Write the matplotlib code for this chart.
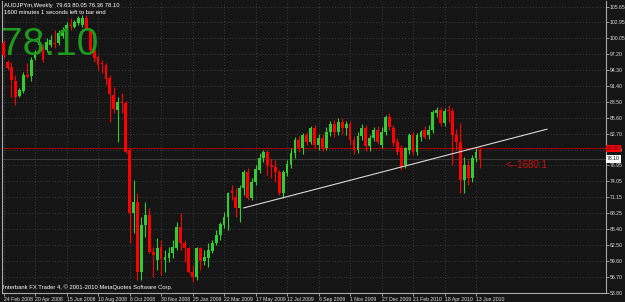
import numpy as np
import matplotlib.pyplot as plt

# weekly AUDJPYm candles, 24 Feb 2008 .. 20 Jun 2010
opens = [99.16, 95.71, 94.80, 92.26, 89.53, 90.44, 93.35, 93.17, 96.44, 98.80,
         98.44, 97.89, 98.80, 99.16, 99.16, 100.44, 101.17, 102.43, 102.07, 102.80,
         102.43, 103.71, 101.53, 97.89, 96.62, 95.53, 95.17, 92.80, 89.71, 86.99,
         88.44, 88.26, 79.72, 68.28, 70.28, 57.55, 66.10, 67.91, 61.19, 59.74,
         62.10, 59.74, 60.10, 61.01, 61.92, 65.73, 62.83, 61.92, 57.55, 56.65,
         61.92, 59.55, 60.10, 61.37, 62.83, 64.28, 66.10, 67.55, 72.45, 71.19,
         69.18, 72.82, 75.73, 71.00, 73.91, 76.09, 78.27, 79.36, 77.00, 76.64,
         75.73, 71.91, 75.55, 77.00, 79.18, 81.54, 80.09, 82.45, 81.18, 83.72,
         80.63, 81.90, 80.09, 83.00, 84.45, 83.00, 84.80, 83.70, 84.45, 81.54,
         79.72, 82.27, 83.72, 80.45, 81.90, 83.36, 80.63, 83.00, 85.72, 83.72,
         81.18, 80.09, 77.00, 79.72, 82.45, 79.36, 82.10, 83.36, 82.45, 83.36,
         86.44, 86.99, 84.62, 86.99, 86.81, 82.45, 81.18, 74.27, 77.00, 74.64,
         78.27, 79.63]
highs = [99.71, 96.08, 95.71, 93.35, 90.99, 93.89, 95.53, 96.62, 97.89, 100.26,
         98.98, 100.07, 100.62, 101.53, 101.53, 102.07, 102.98, 103.71, 103.34, 104.07,
         104.25, 104.25, 101.89, 98.26, 96.98, 96.08, 95.53, 93.35, 91.17, 89.35,
         90.08, 88.63, 80.09, 74.27, 71.91, 67.55, 70.28, 69.18, 62.10, 63.73,
         63.37, 61.55, 62.10, 63.37, 66.64, 68.28, 63.37, 62.10, 58.83, 62.10,
         62.10, 61.55, 62.83, 63.37, 65.19, 66.64, 68.46, 72.09, 73.37, 72.82,
         73.37, 76.09, 76.46, 74.64, 77.00, 79.18, 79.72, 79.72, 78.27, 77.91,
         76.09, 76.09, 77.91, 80.09, 82.07, 82.25, 82.80, 83.00, 84.00, 84.30,
         82.60, 82.60, 83.90, 85.00, 85.20, 85.50, 85.60, 85.00, 85.00, 82.30,
         82.90, 84.50, 84.30, 82.40, 83.90, 84.00, 83.90, 86.00, 86.40, 84.30,
         81.90, 80.60, 80.30, 82.80, 83.00, 82.80, 83.40, 84.00, 84.20, 87.00,
         87.50, 87.60, 87.40, 87.90, 87.40, 83.50, 84.60, 78.50, 77.90, 78.80,
         80.10, 80.05]
lows = [96.44, 94.26, 89.35, 87.90, 89.35, 90.08, 92.80, 92.26, 96.08, 97.53,
        95.71, 97.53, 98.44, 98.26, 98.80, 100.07, 100.80, 101.53, 101.89, 102.43,
        102.07, 101.53, 97.53, 95.71, 94.26, 93.71, 91.53, 84.81, 86.44, 81.18,
        86.44, 79.18, 62.83, 64.64, 56.10, 56.10, 63.92, 61.01, 56.65, 57.92,
        57.01, 57.55, 59.37, 60.10, 61.55, 61.55, 59.37, 57.37, 55.74, 56.10,
        57.92, 58.83, 58.46, 61.01, 62.46, 63.37, 65.55, 65.19, 70.64, 67.55,
        66.64, 71.55, 70.64, 70.64, 73.37, 75.46, 77.55, 75.18, 74.64, 73.91,
        71.55, 71.00, 75.00, 76.46, 78.27, 79.36, 79.00, 80.60, 80.80, 80.10,
        79.70, 79.50, 79.70, 82.30, 82.10, 82.50, 82.60, 82.50, 80.60, 79.00,
        79.20, 81.50, 79.60, 79.60, 81.40, 80.80, 80.00, 82.50, 83.40, 80.50,
        78.80, 76.10, 76.40, 79.00, 78.90, 78.90, 81.40, 81.70, 81.80, 82.80,
        85.80, 84.00, 84.00, 84.80, 77.00, 79.70, 71.90, 71.90, 73.40, 73.90,
        77.60, 76.36]
closes = [96.98, 94.62, 92.44, 89.35, 90.62, 93.35, 92.99, 96.08, 97.53, 99.35,
          96.08, 99.35, 99.71, 98.98, 100.98, 101.53, 102.43, 102.25, 102.98, 103.71,
          103.71, 101.89, 97.89, 96.44, 95.17, 95.35, 92.62, 89.90, 87.17, 88.44,
          88.26, 79.36, 68.28, 70.28, 57.55, 66.10, 67.91, 61.19, 60.64, 61.92,
          59.92, 60.28, 61.01, 62.10, 65.73, 62.83, 61.92, 57.55, 56.65, 61.92,
          59.55, 60.28, 61.55, 62.83, 64.28, 66.28, 67.55, 71.91, 71.91, 69.18,
          72.82, 75.73, 71.00, 73.91, 76.27, 78.27, 79.36, 77.00, 76.64, 75.73,
          71.91, 75.73, 77.18, 79.18, 81.54, 80.09, 82.45, 81.18, 83.72, 80.63,
          81.90, 80.09, 83.00, 84.45, 83.00, 84.80, 83.70, 84.45, 81.54, 79.72,
          82.27, 83.72, 80.45, 81.90, 83.36, 81.18, 83.00, 85.72, 83.90, 81.00,
          79.36, 76.64, 80.09, 82.45, 79.36, 82.45, 83.00, 82.10, 83.36, 86.63,
          86.99, 84.62, 86.81, 86.81, 82.45, 81.18, 74.27, 77.00, 74.64, 78.27,
          79.36, 78.10]

date_labels = ['24 Feb 2008', '20 Apr 2008', '15 Jun 2008', '10 Aug 2008', '6 Oct 2008',
               '30 Nov 2008', '25 Jan 2009', '22 Mar 2009', '17 May 2009', '12 Jul 2009',
               '6 Sep 2009', '1 Nov 2009', '27 Dec 2009', '21 Feb 2010', '18 Apr 2010',
               '13 Jun 2010']
price_ticks = [105.65, 102.95, 100.05, 97.20, 94.30, 91.40, 88.50, 85.60, 82.70,
               79.80, 76.95, 74.05, 71.15, 68.25, 65.40, 62.50, 59.60, 56.70, 53.80]

hline_price = 80.00
bid_price = 78.10
trend_x = [61, 138]
trend_y = [69.2, 83.5]

bg = '#151515'
up_col = '#32cd32'
dn_col = '#ff0000'
small = 'Liberation Sans'
fs = 3.7

fig = plt.figure(figsize=(6.25, 3.02), dpi=100, facecolor=bg)
ax = fig.add_axes([2/625, 9/302, 604/625, 292/302], facecolor=bg)

n = len(closes)
x = np.arange(n)
o = np.array(opens); c = np.array(closes)
cols = [up_col if cc >= oo else dn_col for oo, cc in zip(o, c)]

ax.vlines(x, lows, highs, colors=cols, linewidth=0.8, zorder=3)
body = np.where(np.abs(c - o) < 0.15, 0.15, c - o)
ax.bar(x, body, bottom=o, width=0.72, color=cols, linewidth=0, zorder=4)

ax.axhline(hline_price, color='#a00000', linewidth=0.8, zorder=2)
ax.axhline(bid_price, color='#3a3a3a', linewidth=0.8, zorder=1)
ax.plot(trend_x, trend_y, color='#d8d8d8', linewidth=0.8, zorder=5)

ax.set_xlim(-0.4, 153)
ax.set_ylim(53.74, 106.79)

ax.set_xticks(np.arange(0, 8*len(date_labels), 8))
ax.set_xticklabels(date_labels)
for lbl in ax.get_xticklabels():
    lbl.set_ha('left')
ax.set_yticks(price_ticks)
ax.set_yticklabels(['%.2f' % p for p in price_ticks])
ax.yaxis.tick_right()
ax.tick_params(axis='both', colors='#b0b0b0', labelcolor='#e0e0e0', labelsize=fs,
               length=2, width=0.6, pad=0.6)
for lbl in ax.get_xticklabels() + ax.get_yticklabels():
    lbl.set_family(small)

ax.grid(True, color='#3c3c3c', linestyle=(0, (1, 2)), linewidth=0.7, zorder=0)
for s in ['left', 'bottom', 'right']:
    ax.spines[s].set_color('#a8a8a8')
    ax.spines[s].set_linewidth(0.8)
ax.spines['top'].set_visible(False)

# price boxes on the scale
ax.text(1.002, hline_price, '80.00', transform=ax.get_yaxis_transform(), fontsize=fs,
        color='#300000', va='center', ha='left', family=small,
        bbox=dict(boxstyle='square,pad=0.25', fc='#ff0000', ec='none'), zorder=10, clip_on=False)
ax.text(1.002, bid_price, '78.10', transform=ax.get_yaxis_transform(), fontsize=fs,
        color='black', va='center', ha='left', family=small,
        bbox=dict(boxstyle='square,pad=0.25', fc='white', ec='none'), zorder=10, clip_on=False)

fig.text(4/625, 1 - 5.5/302, 'AUDJPYm,Weekly  79.63 80.05 76.36 78.10', fontsize=4.2,
         color='white', va='center', family=small)
fig.text(4/625, 1 - 12.5/302, '1600 minutes 1 seconds left to bar end', fontsize=4.2,
         color='white', va='center', family=small)
fig.text(1/625, 1 - 45/302, '78.10', fontsize=28, color='#1e9a1e', va='center',
         family='Liberation Sans')
fig.text(3/625, 1 - 287/302, 'Interbank FX Trader 4, \u00a9 2001-2010 MetaQuotes Software Corp.',
         fontsize=4.2, color='white', va='center', family=small)
fig.text(505/625, 1 - 165/302, '<--1680:1', fontsize=7, color='#d01010', va='center',
         family='Liberation Sans')

fig.savefig('out.png', dpi=100, facecolor=bg)
